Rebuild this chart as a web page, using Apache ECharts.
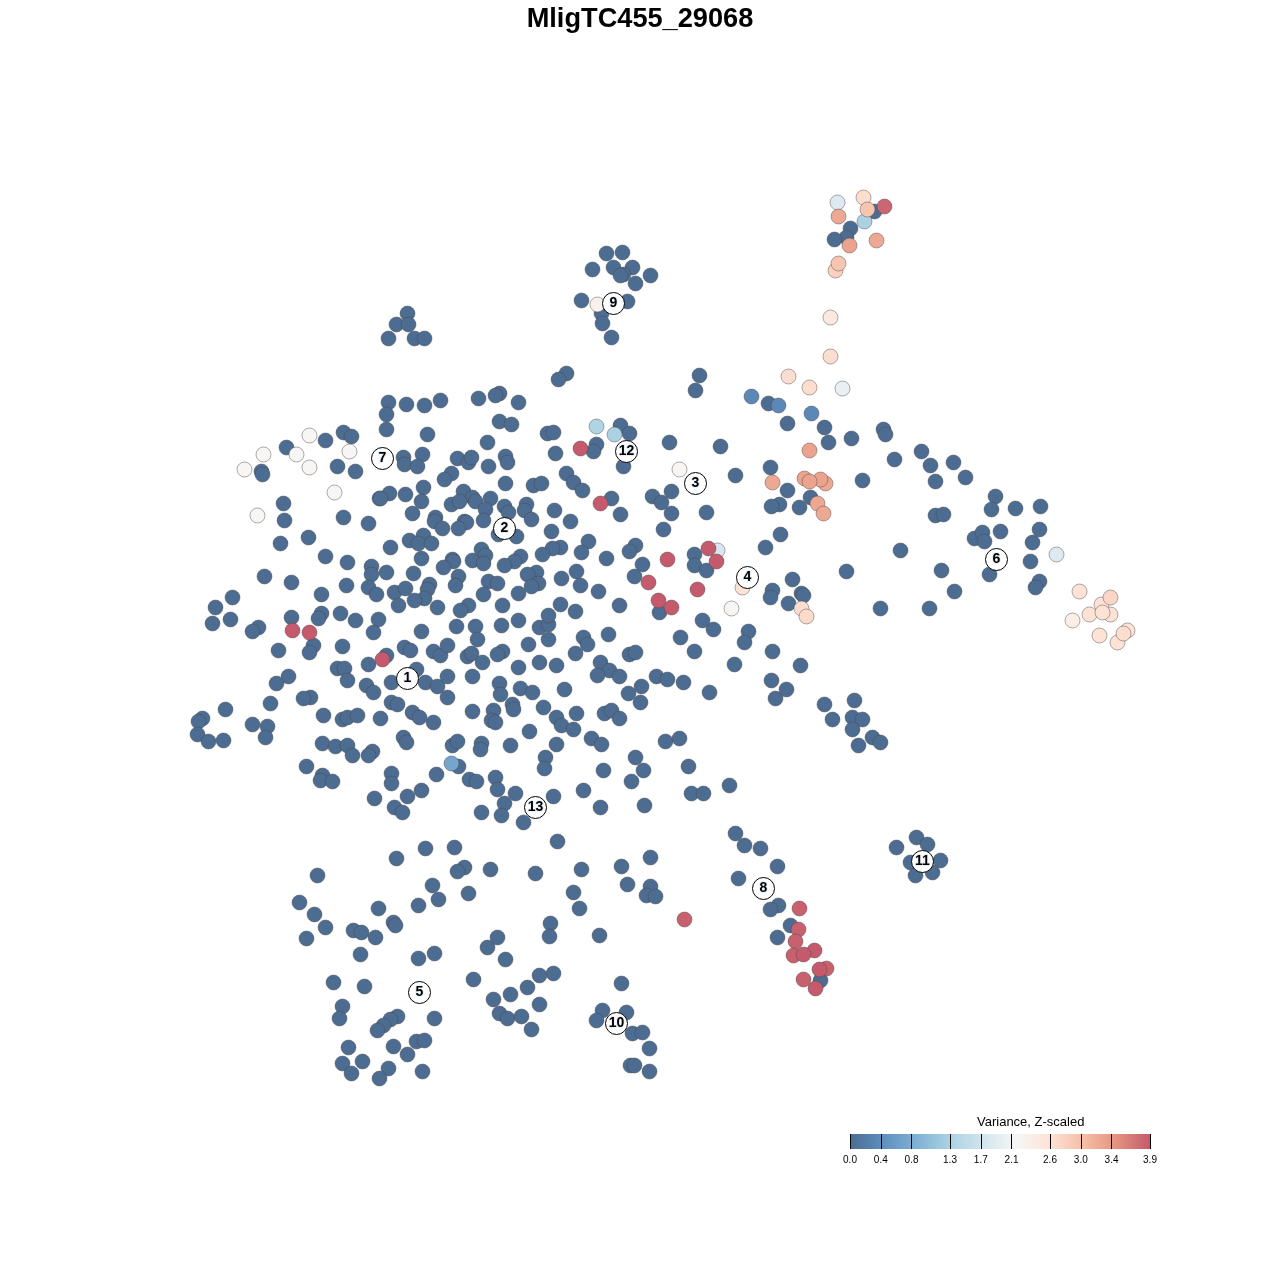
<!DOCTYPE html>
<html>
<head>
<meta charset="utf-8">
<style>html,body{margin:0;padding:0;background:#fff}#c{width:1280px;height:1280px}</style>
<script src="https://cdn.jsdelivr.net/npm/echarts@6/dist/echarts.min.js"></script>
</head>
<body>
<div id="c"></div>
<script>
const chartTitle = 'MligTC455_29068';
const legendTitle = 'Variance, Z-scaled';
const legendTicks = [0.0, 0.4, 0.8, 1.3, 1.7, 2.1, 2.6, 3.0, 3.4, 3.9];
const legendColors = ['#4c6c92','#5f8fbf','#80b2d5','#abd2e3','#d3e5ef','#f7f6f5','#fde2d5','#f6bea6','#e4927f','#c45a6b'];

// cells whose value reads as 0 (dark blue), [x, y] in embedding units
const zeroCellsUpperLeft = [
[388,402],[406,404],[424,405],[440,400],[478,398],[386,414],[386,429],[427,434],[487,442],[343,432],[351,436],[325,440],[286,447],[403,457],[404,464],[422,454],[417,466],[457,458],[468,462],[471,457],[488,466],[337,466],[355,471],[261,471],[262,474],[451,473],[444,479],[423,487],[389,493],[405,494],[379,498],[380,498],[421,501],[463,491],[472,497],[451,504],[459,501],[475,501],[490,498],[412,513],[485,509],[283,503],[284,520],[343,517],[368,523],[435,517],[434,521],[442,528],[464,521],[466,522],[458,528],[483,520],[308,537],[280,543],[423,535],[409,540],[418,543],[431,543],[390,547],[325,556],[347,562],[371,566],[371,574],[386,572],[421,558],[452,559],[453,561],[443,567],[472,560],[481,549],[485,555],[483,563],[413,573],[458,576],[455,585],[488,581],[264,576],[291,582],[346,585],[368,587],[376,594],[394,592],[405,588],[429,584],[427,589],[424,598],[414,600],[398,605],[437,607],[321,594],[483,594],[468,605],[460,610],[232,597],[215,607],[230,619],[212,623],[291,617],[321,613],[318,618],[340,613],[355,620],[378,619],[258,627],[252,631],[456,626],[475,626]
];
const zeroCellsLowerLeft = [
[373,632],[421,631],[477,639],[278,650],[313,645],[309,652],[342,646],[404,647],[410,650],[386,655],[368,664],[433,651],[440,655],[447,645],[467,656],[471,653],[482,662],[337,668],[344,668],[416,669],[347,680],[391,682],[425,682],[437,686],[447,676],[472,676],[288,676],[276,683],[366,685],[373,692],[391,702],[397,704],[270,703],[310,697],[303,698],[447,697],[225,709],[323,715],[412,712],[419,717],[433,722],[472,711],[342,719],[347,717],[357,715],[380,718],[252,724],[267,726],[265,737],[202,718],[198,721],[197,734],[208,741],[223,740],[322,743],[335,746],[347,745],[352,755],[372,751],[368,755],[403,737],[406,742],[452,745],[457,741],[481,743],[480,749],[306,766],[322,775],[320,780],[332,781],[391,773],[391,783],[436,774],[458,766],[469,779],[476,781],[374,798],[421,790],[407,796],[394,807],[402,812],[481,812],[425,848],[454,847],[396,858]
];
const zeroCellsLowerCentre = [
[501,625],[518,620],[539,627],[548,624],[548,639],[528,644],[502,651],[497,654],[518,667],[539,662],[556,665],[583,637],[587,644],[575,653],[608,634],[680,637],[713,629],[702,620],[748,631],[744,642],[694,651],[629,654],[635,652],[772,651],[734,664],[771,680],[775,698],[600,662],[609,670],[597,675],[619,676],[656,676],[667,679],[683,682],[641,686],[628,693],[640,702],[709,692],[499,683],[500,694],[520,688],[532,692],[564,689],[512,704],[513,709],[493,710],[491,720],[495,722],[543,707],[556,717],[561,725],[576,713],[573,729],[604,713],[611,710],[619,718],[529,731],[591,738],[601,744],[665,741],[679,738],[556,744],[510,745],[545,757],[544,768],[635,757],[643,770],[603,770],[688,766],[631,781],[729,785],[691,793],[703,793],[495,777],[497,789],[515,793],[504,803],[501,815],[523,822],[553,796],[583,790],[600,807],[644,805],[557,841],[735,833],[744,845],[760,848],[650,857]
];
const zeroCellsUpperCentre = [
[699,375],[499,393],[495,395],[518,402],[499,421],[511,424],[547,433],[553,432],[555,453],[620,425],[629,433],[596,444],[593,451],[623,466],[669,442],[720,446],[695,390],[735,475],[505,456],[507,462],[505,483],[533,485],[541,483],[566,473],[573,482],[582,490],[611,498],[620,514],[652,496],[661,502],[671,491],[671,513],[706,512],[663,529],[504,506],[508,512],[526,504],[524,510],[531,519],[554,510],[570,521],[551,531],[516,536],[498,534],[588,541],[560,547],[552,548],[542,554],[581,552],[606,558],[635,545],[629,551],[642,564],[634,576],[520,556],[514,561],[504,565],[536,572],[527,574],[538,583],[531,586],[576,571],[561,578],[497,583],[518,593],[580,585],[598,591],[619,605],[560,604],[575,611],[548,615],[502,605],[694,554],[694,565],[706,570],[659,612]
];
const zeroCellsRight = [
[768,403],[787,423],[824,427],[828,442],[851,438],[883,429],[885,434],[894,459],[921,451],[930,465],[953,462],[935,481],[965,477],[995,496],[991,509],[1015,508],[1040,506],[935,515],[943,514],[974,538],[982,532],[984,541],[1000,531],[1039,529],[1032,542],[1030,561],[989,574],[1039,581],[1035,587],[900,550],[941,570],[954,591],[929,608],[880,608],[846,571],[770,467],[787,490],[810,497],[779,504],[771,506],[799,507],[862,480],[780,534],[765,547],[792,579],[772,590],[770,597],[788,603],[801,593],[803,595],[800,665],[786,689],[824,704],[854,700],[832,719],[852,717],[862,719],[852,729],[872,737],[880,742],[858,745]
];
const zeroCellsBottom = [
[317,875],[464,867],[457,871],[490,869],[535,873],[581,869],[621,866],[432,885],[438,899],[418,905],[468,893],[573,892],[579,908],[627,884],[650,886],[646,895],[655,896],[299,902],[314,914],[325,927],[306,938],[378,908],[393,922],[395,925],[353,930],[361,932],[375,937],[550,923],[549,936],[599,935],[497,937],[487,947],[505,959],[360,954],[418,958],[434,953],[553,973],[539,975],[527,987],[510,994],[493,999],[539,1004],[473,979],[333,982],[364,986],[621,983],[342,1006],[339,1018],[499,1013],[507,1018],[521,1016],[531,1029],[434,1018],[397,1016],[390,1019],[383,1025],[377,1030],[602,1010],[626,1012],[596,1020],[632,1033],[642,1032],[649,1048],[348,1047],[393,1046],[416,1041],[424,1040],[407,1054],[342,1063],[362,1061],[351,1073],[388,1068],[379,1078],[422,1071],[630,1065],[634,1065],[649,1071]
];
const zeroCellsSmallClusters = [
[777,866],[738,878],[778,905],[770,909],[790,925],[777,937],[820,980],
[896,847],[916,837],[927,844],[910,862],[940,860],[932,872],[915,875],
[606,253],[622,252],[592,269],[613,267],[632,267],[623,274],[620,275],[650,275],[635,283],[581,300],[627,301],[601,313],[602,323],[611,337],
[407,313],[396,324],[408,324],[388,338],[414,338],[424,338],[566,373],[558,379],
[874,211],[850,228],[846,237],[834,239]
];
// cells with a readable non-zero value, [x, y, value]
const expressedBlue = [
[451,763,0.7],[751,396,0.35],[778,405,0.35],[811,413,0.35],[596,426,1.35],[614,434,1.3],[864,221,1.3]
];
const expressedPale = [
[717,550,1.8],[837,202,1.85],[1056,554,1.85],[842,388,2.0],[679,469,2.17],[731,608,2.17],[309,435,2.17],[263,454,2.17],[296,454,2.17],[349,451,2.17],[244,469,2.17],[309,467,2.17],[334,492,2.17],[257,515,2.17],[597,304,2.25],[1072,620,2.35],[830,317,2.45]
];
const expressedPeach = [
[830,356,2.65],[788,376,2.65],[809,387,2.65],[863,197,2.65],[742,587,2.6],[801,608,2.65],[806,616,2.7],[835,270,2.8],[1079,591,2.6],[1101,604,2.6],[1089,614,2.6],[1110,614,2.6],[1102,612,2.6],[1099,635,2.6],[1127,630,2.6],[1117,642,2.6],[1123,633,2.65],[1110,597,2.75],[838,263,2.95],[867,209,2.95]
];
const expressedSalmon = [
[838,216,3.25],[876,240,3.25],[849,245,3.3],[809,450,3.3],[772,482,3.25],[825,483,3.25],[804,478,3.3],[820,479,3.3],[809,481,3.3],[817,503,3.25],[823,513,3.25]
];
const expressedRed = [
[884,206,3.8],[580,448,3.9],[600,503,3.9],[708,548,3.9],[667,559,3.9],[716,561,3.9],[648,582,3.9],[697,589,3.9],[658,600,3.9],[671,607,3.9],[292,630,3.9],[309,632,3.9],[382,659,3.9],[684,919,3.85],[799,908,3.85],[798,929,3.85],[795,941,3.85],[814,950,3.9],[793,955,3.85],[803,954,3.9],[826,968,3.85],[819,969,3.9],[803,979,3.85],[815,988,3.9]
];
const clusterLabels = [
[407,678,'1'],[504,528,'2'],[695,483,'3'],[747,577,'4'],[419,992,'5'],[996,559,'6'],[382,458,'7'],[763,888,'8'],[613,303,'9'],[616,1023,'10'],[922,861,'11'],[626,451,'12'],[535,807,'13']
];

const zeroCells = [].concat(zeroCellsUpperLeft, zeroCellsLowerLeft, zeroCellsLowerCentre, zeroCellsUpperCentre, zeroCellsRight, zeroCellsBottom, zeroCellsSmallClusters).map(p => [p[0], p[1], 0]);
const cells = zeroCells.concat(expressedBlue, expressedPale, expressedPeach, expressedSalmon, expressedRed);
const font = '"Liberation Sans", Arial, sans-serif';
const chart = echarts.init(document.getElementById('c'), null, {renderer: 'canvas'});
chart.setOption({
  animation: false,
  backgroundColor: '#ffffff',
  title: [
    {text: chartTitle, left: 'center', top: 1, textStyle: {fontFamily: font, fontWeight: 'bold', fontSize: 27.2, color: '#000'}},
    {text: legendTitle, left: 972, top: 1111, textStyle: {fontFamily: font, fontWeight: 'normal', fontSize: 13, color: '#000'}}
  ],
  grid: [
    {left: 0, top: 0, width: 1280, height: 1280},
    {left: 850, top: 1134, width: 300, height: 15}
  ],
  xAxis: [
    {type: 'value', gridIndex: 0, min: -0.5, max: 1279.5, show: false},
    {type: 'value', gridIndex: 1, min: 0, max: 3.9, z: 10, position: 'bottom',
     axisLine: {show: false}, splitLine: {show: false},
     axisTick: {show: true, inside: true, length: 15, customValues: legendTicks, lineStyle: {color: '#000', width: 1}},
     axisLabel: {show: true, customValues: legendTicks, margin: 6, hideOverlap: false, fontFamily: font, fontSize: 10, color: '#000', formatter: v => v.toFixed(1)}}
  ],
  yAxis: [
    {type: 'value', gridIndex: 0, min: -0.5, max: 1279.5, inverse: true, show: false},
    {type: 'category', gridIndex: 1, data: ['z'], show: false}
  ],
  visualMap: {show: false, type: 'continuous', seriesIndex: 0, dimension: 2, min: 0, max: 3.9, inRange: {color: legendColors}},
  series: [
    {type: 'scatter', xAxisIndex: 0, yAxisIndex: 0, data: cells, symbolSize: 15, silent: true, z: 2,
     itemStyle: {borderColor: 'rgba(70,70,70,0.45)', borderWidth: 1, opacity: 1}},
    {type: 'scatter', xAxisIndex: 0, yAxisIndex: 0, data: clusterLabels, symbolSize: 22, silent: true, z: 5,
     itemStyle: {color: '#fff', borderColor: '#000', borderWidth: 1, opacity: 1},
     label: {show: true, position: 'inside', formatter: p => p.data[2], fontFamily: font, fontWeight: 'bold', fontSize: 14, color: '#000', textBorderColor: '#e8eff6', textBorderWidth: 2}},
    {type: 'bar', xAxisIndex: 1, yAxisIndex: 1, data: [3.9], barWidth: '100%', silent: true, z: 2,
     itemStyle: {color: new echarts.graphic.LinearGradient(0, 0, 1, 0, legendColors.map((c, i) => ({offset: i / (legendColors.length - 1), color: c})))}}
  ]
});
</script>
</body>
</html>
